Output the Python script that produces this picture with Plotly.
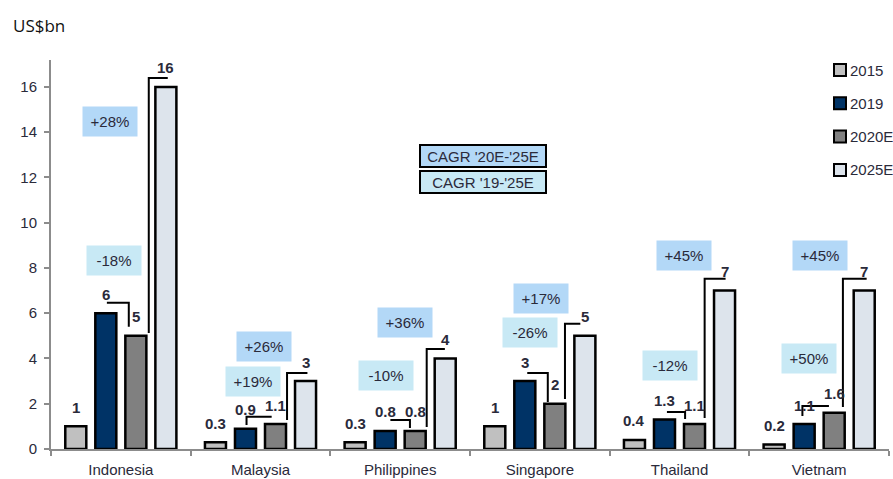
import plotly.graph_objects as go

# Market size by country, US$bn
countries = ["Indonesia", "Malaysia", "Philippines", "Singapore", "Thailand", "Vietnam"]
years = ["2015", "2019", "2020E", "2025E"]
v2015 = [1, 0.3, 0.3, 1, 0.4, 0.2]
v2019 = [6, 0.9, 0.8, 3, 1.3, 1.1]
v2020e = [5, 1.1, 0.8, 2, 1.1, 1.6]
v2025e = [16, 3, 4, 5, 7, 7]
cagr_20_25 = ["+28%", "+26%", "+36%", "+17%", "+45%", "+45%"]
cagr_19_25 = ["-18%", "+19%", "-10%", "-26%", "-12%", "+50%"]

series = [v2015, v2019, v2020e, v2025e]
bar_colors = ["#c0c0c0", "#003366", "#808080", "#dde4ec"]
box_blue = "#b3d8f7"
box_cyan = "#c8e9f5"
txt = "#2a2a3a"
FONT = "Liberation Sans, Arial, sans-serif"

# plot area in pixels (used to place paper-referenced items)
L, R, T, B = 51, 4, 60, 30
W, H = 893, 479
PW, PH = W - L - R, H - T - B


def px_x(px):
    return (px - L) / PW


def px_y(py):
    return (H - B - py) / PH


BARGAP = 0.14
slot = (1 - BARGAP) / 4
offsets = [-(1 - BARGAP) / 2 + (k + 0.5) * slot for k in range(4)]

fig = go.Figure()
for k, (yr, vals, col) in enumerate(zip(years, series, bar_colors)):
    fig.add_trace(go.Bar(
        x=countries, y=vals, name=yr, showlegend=False,
        marker=dict(color=col, line=dict(color="black", width=2.5)),
        hoverinfo="x+y+name",
    ))

annotations = []
shapes = []

# value labels above each bar
for k, vals in enumerate(series):
    for i, v in enumerate(vals):
        annotations.append(dict(
            x=i + offsets[k], y=v, xref="x", yref="y", text=f"<b>{v:g}</b>",
            showarrow=False, yanchor="middle", yshift=19,
            font=dict(family=FONT, size=15, color=txt),
        ))

# CAGR boxes per country (offset within category, height in axis units)
box_pos_hi = [(-0.08, 14.48), (0.025, 4.51), (0.034, 5.61), (0.009, 6.67), (0.032, 8.53), (0.006, 8.53)]
box_pos_lo = [(-0.05, 8.35), (-0.054, 3.0), (-0.10, 3.27), (-0.07, 5.13), (-0.068, 3.67), (-0.073, 4.02)]
for i in range(len(countries)):
    for (dx, y), label, bg in ((box_pos_hi[i], cagr_20_25[i], box_blue),
                               (box_pos_lo[i], cagr_19_25[i], box_cyan)):
        annotations.append(dict(
            x=i + dx, y=y, xref="x", yref="y", text=label, showarrow=False,
            bgcolor=bg, width=50, height=25, borderpad=2,
            font=dict(family=FONT, size=15, color=txt),
        ))

# key for the CAGR boxes
for y, label, bg in ((143.5, "CAGR '20E-'25E", box_blue), (170, "CAGR '19-'25E", box_cyan)):
    annotations.append(dict(
        x=px_x(483), y=px_y(y), xref="paper", yref="paper",
        text=label, showarrow=False, bgcolor=bg, bordercolor="black",
        borderwidth=2, width=122, height=18, borderpad=1,
        font=dict(family=FONT, size=15, color=txt),
    ))

# series key on the right
for k, (yr, col) in enumerate(zip(years, bar_colors)):
    cy = 70 + k * 33.3
    shapes.append(dict(type="rect", xref="paper", yref="paper",
                       x0=px_x(834), x1=px_x(846), y0=px_y(cy + 6), y1=px_y(cy - 6),
                       fillcolor=col, line=dict(color="black", width=2)))
    annotations.append(dict(
        x=px_x(848), y=px_y(cy), xref="paper", yref="paper", text=yr,
        showarrow=False, xanchor="left", yanchor="middle",
        font=dict(family=FONT, size=15, color=txt),
    ))

annotations.append(dict(
    x=px_x(11), y=px_y(25), xref="paper", yref="paper",
    text="US$bn", showarrow=False, xanchor="left", yanchor="middle",
    font=dict(family="Open Sans, sans-serif", size=17, color="#111"),
))

# connector brackets: (offset, value) points per country
small_brackets = [
    [(-0.10, 6.46), (0.057, 6.46), (0.057, 5.4)],
    [(-0.10, 1.06), (-0.10, 1.42), (0.08, 1.42)],
    [(-0.07, 1.28), (0.07, 1.28), (0.07, 0.93)],
    [(-0.09, 3.36), (0.057, 3.36), (0.057, 2.08)],
    [(-0.09, 1.64), (0.04, 1.64), (0.04, 1.33)],
    [(-0.12, 1.46), (-0.12, 1.9), (0.07, 1.9)],
]
big_brackets = [
    [(0.20, 5.13), (0.20, 16.4), (0.336, 16.4)],
    [(0.19, 1.28), (0.19, 3.36), (0.336, 3.36)],
    [(0.19, 0.97), (0.19, 4.42), (0.32, 4.42)],
    [(0.18, 2.21), (0.18, 5.53), (0.29, 5.53)],
    [(0.18, 1.37), (0.18, 7.52), (0.33, 7.52)],
    [(0.17, 1.86), (0.17, 7.52), (0.34, 7.52)],
]
for i in range(len(countries)):
    for pts in (small_brackets[i], big_brackets[i]):
        path = "M " + " L ".join(f"{i + dx},{y}" for dx, y in pts)
        shapes.append(dict(type="path", path=path, xref="x", yref="y",
                           line=dict(color="black", width=2)))

fig.update_layout(
    width=W, height=H,
    margin=dict(l=L, r=R, t=T, b=B),
    paper_bgcolor="white", plot_bgcolor="white",
    barmode="group", bargap=BARGAP, bargroupgap=0.3,
    font=dict(family=FONT, size=14, color=txt),
    showlegend=False,
    annotations=annotations, shapes=shapes,
    xaxis=dict(showline=True, linecolor="#8c8c8c", linewidth=2,
               ticks="outside", ticklen=5, tickcolor="#8c8c8c", tickwidth=2,
               tickson="boundaries", showgrid=False, ticklabelstandoff=6,
               automargin=False,
               tickfont=dict(family=FONT, size=15, color=txt)),
    yaxis=dict(range=[0, 17.19], dtick=2, showline=True, linecolor="#8c8c8c",
               linewidth=2, ticks="outside", ticklen=5, tickcolor="#8c8c8c",
               tickwidth=2, showgrid=False, zeroline=False, ticklabelstandoff=4,
               automargin=False,
               tickfont=dict(family=FONT, size=15, color=txt)),
)

fig.write_html("out.html")
